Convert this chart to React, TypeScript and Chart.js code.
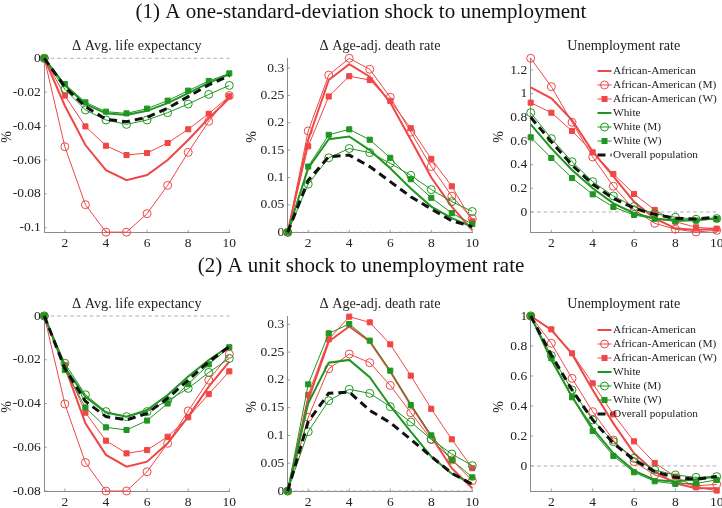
import React, { useEffect, useRef } from "react";
import { Chart, registerables } from "chart.js";

Chart.register(...registerables);

const FONT = "'Liberation Serif', 'Times New Roman', serif";
const RED = "#ef4646";
const GREEN = "#1f961f";
const BLACK = "#111111";

// ---------- shared data ----------
const steps = [1, 2, 3, 4, 5, 6, 7, 8, 9, 10];
const xTickValues = [2, 4, 6, 8, 10];
const seriesNames = [
  "African-American",
  "African-American (M)",
  "African-American (W)",
  "White",
  "White (M)",
  "White (W)",
  "Overall population",
];
const mainTitle1 = "(1) A one-standard-deviation shock to unemployment";
const mainTitle2 = "(2) A unit shock to unemployment rate";
const subTitles = ["\u0394 Avg. life expectancy", "\u0394 Age-adj. death rate", "Unemployment rate"];
const yAxisLabel = "%";

// ---------- (1) life expectancy ----------
const le1AA = [0, -0.028, -0.0512, -0.066, -0.0719, -0.0689, -0.06, -0.0482, -0.0354, -0.0236];
const le1AAM = [0, -0.0522, -0.0864, -0.1026, -0.1026, -0.0917, -0.075, -0.0555, -0.0372, -0.022];
const le1AAW = [0, -0.022, -0.0402, -0.0516, -0.0571, -0.0559, -0.05, -0.0419, -0.0327, -0.0224];
const le1W = [0, -0.016, -0.027, -0.0325, -0.0335, -0.031, -0.0265, -0.0205, -0.0145, -0.0095];
const le1WM = [0, -0.0183, -0.0305, -0.0364, -0.039, -0.0364, -0.0321, -0.027, -0.0213, -0.016];
const le1WW = [0, -0.0152, -0.026, -0.0315, -0.0325, -0.0297, -0.025, -0.0191, -0.0134, -0.0089];
const le1All = [0, -0.017, -0.0285, -0.036, -0.0374, -0.0348, -0.0295, -0.0226, -0.0157, -0.0103];
const le1Ticks = [0, -0.02, -0.04, -0.06, -0.08, -0.1];
const le1Range = [-0.1027, 0];

// ---------- (1) death rate ----------
const dr1AA = [0, 0.169, 0.278, 0.307, 0.284, 0.237, 0.169, 0.1, 0.047, 0.004];
const dr1AAM = [0, 0.185, 0.287, 0.3177, 0.2976, 0.2465, 0.183, 0.12, 0.066, 0.025];
const dr1AAW = [0, 0.157, 0.248, 0.285, 0.278, 0.24, 0.19, 0.134, 0.084, 0.02];
const dr1W = [0, 0.117, 0.17, 0.175, 0.15, 0.117, 0.08, 0.047, 0.026, 0.01];
const dr1WM = [0, 0.088, 0.136, 0.153, 0.1455, 0.126, 0.104, 0.078, 0.056, 0.038];
const dr1WW = [0, 0.12, 0.178, 0.188, 0.169, 0.136, 0.097, 0.063, 0.035, 0.015];
const dr1All = [0, 0.095, 0.138, 0.141, 0.12, 0.0925, 0.065, 0.0426, 0.021, 0.0103];
const dr1Ticks = [0, 0.05, 0.1, 0.15, 0.2, 0.25, 0.3];
const dr1Range = [0, 0.3177];

// ---------- (1) unemployment ----------
const ur1AA = [1.053, 0.96, 0.777, 0.51, 0.3, 0.087, -0.054, -0.138, -0.152, -0.14];
const ur1AAM = [1.299, 1.059, 0.758, 0.465, 0.217, 0.02, -0.096, -0.146, -0.169, -0.155];
const ur1AAW = [0.924, 0.839, 0.685, 0.504, 0.321, 0.152, 0.017, -0.082, -0.13, -0.141];
const ur1W = [0.741, 0.538, 0.355, 0.2, 0.073, -0.011, -0.056, -0.073, -0.068, -0.054];
const ur1WM = [0.839, 0.62, 0.425, 0.256, 0.135, 0.045, -0.014, -0.045, -0.062, -0.056];
const ur1WW = [0.631, 0.456, 0.287, 0.149, 0.042, -0.025, -0.059, -0.079, -0.073, -0.059];
const ur1All = [0.8, 0.594, 0.397, 0.234, 0.115, 0.031, -0.02, -0.054, -0.059, -0.045];
const ur1Ticks = [0, 0.2, 0.4, 0.6, 0.8, 1, 1.2];
const ur1Range = [-0.172, 1.299];

// ---------- (2) life expectancy ----------
const le2AA = [0, -0.0232, -0.049, -0.0635, -0.0689, -0.0666, -0.0582, -0.046, -0.0323, -0.0209];
const le2AAM = [0, -0.0402, -0.067, -0.08, -0.08, -0.0712, -0.0582, -0.0434, -0.0293, -0.0175];
const le2AAW = [0, -0.0224, -0.0442, -0.057, -0.0628, -0.0613, -0.0552, -0.0463, -0.0357, -0.0253];
const le2W = [0, -0.0235, -0.0369, -0.0442, -0.046, -0.043, -0.0361, -0.0277, -0.0201, -0.0137];
const le2WM = [0, -0.0216, -0.036, -0.0437, -0.046, -0.0437, -0.0387, -0.0331, -0.0258, -0.0194];
const le2WW = [0, -0.0247, -0.0418, -0.0509, -0.0521, -0.0478, -0.04, -0.0311, -0.0221, -0.0143];
const le2All = [0, -0.024, -0.039, -0.046, -0.0475, -0.0445, -0.0376, -0.0293, -0.0209, -0.014];
const le2Ticks = [0, -0.02, -0.04, -0.06, -0.08];
const le2Range = [-0.08, 0];

// ---------- (2) death rate ----------
const dr2AA = [0, 0.164, 0.269, 0.296, 0.269, 0.215, 0.155, 0.098, 0.041, 0.005];
const dr2AAM = [0, 0.1326, 0.22, 0.2466, 0.231, 0.19, 0.141, 0.093, 0.0558, 0.0186];
const dr2AAW = [0, 0.173, 0.273, 0.3138, 0.3036, 0.264, 0.2076, 0.148, 0.093, 0.041];
const dr2W = [0, 0.158, 0.231, 0.236, 0.205, 0.153, 0.107, 0.062, 0.031, 0.0126];
const dr2WM = [0, 0.1068, 0.1626, 0.183, 0.1758, 0.1518, 0.1242, 0.093, 0.0666, 0.0456];
const dr2WW = [0, 0.192, 0.2838, 0.3006, 0.2706, 0.2166, 0.1548, 0.1002, 0.0558, 0.0246];
const dr2All = [0, 0.125, 0.176, 0.178, 0.145, 0.123, 0.093, 0.062, 0.032, 0.012];
const dr2Ticks = [0, 0.05, 0.1, 0.15, 0.2, 0.25, 0.3];
const dr2Range = [0, 0.315];

// ---------- (2) unemployment ----------
const ur2AA = [1, 0.907, 0.747, 0.507, 0.284, 0.084, -0.038, -0.116, -0.149, -0.149];
const ur2AAM = [1, 0.818, 0.584, 0.362, 0.173, 0.029, -0.06, -0.104, -0.133, -0.122];
const ur2AAW = [1, 0.911, 0.751, 0.551, 0.344, 0.164, 0.02, -0.071, -0.142, -0.164];
const ur2W = [1, 0.707, 0.462, 0.251, 0.084, -0.031, -0.093, -0.104, -0.089, -0.071];
const ur2WM = [1, 0.736, 0.507, 0.307, 0.162, 0.051, -0.027, -0.06, -0.076, -0.071];
const ur2WW = [1, 0.718, 0.458, 0.233, 0.067, -0.042, -0.102, -0.12, -0.116, -0.093];
const ur2All = [1, 0.74, 0.507, 0.307, 0.151, 0.04, -0.038, -0.076, -0.089, -0.071];
const ur2Ticks = [0, 0.2, 0.4, 0.6, 0.8, 1];
const ur2Range = [-0.167, 1];

// ---------- styles ----------
const seriesStyles = [
  { color: RED, width: 2, marker: "none", dash: [] as number[] },
  { color: RED, width: 1, marker: "circle", dash: [] as number[] },
  { color: RED, width: 1, marker: "square", dash: [] as number[] },
  { color: GREEN, width: 2, marker: "none", dash: [] as number[] },
  { color: GREEN, width: 1, marker: "circle", dash: [] as number[] },
  { color: GREEN, width: 1, marker: "square", dash: [] as number[] },
  { color: BLACK, width: 3, marker: "none", dash: [8, 5] },
];

type PanelCfg = {
  key: string;
  series: number[][];
  yTicks: number[];
  yRange: number[];
  area: { left: number; right: number; top: number; bottom: number };
  title: string;
  titleBaseline: number;
  yLabelX: number;
  yLabelY: number;
  legendTop?: number;
  mainTitle?: string;
  mainBaseline?: number;
};

const ROW1 = { top: 58.3, bottom: 232.3 };
const ROW2 = { top: 316, bottom: 491 };
const COLS = [
  { left: 44.3, right: 229.3, yLabelX: 7.5 },
  { left: 287.7, right: 472.3, yLabelX: 252.5 },
  { left: 530.7, right: 716.7, yLabelX: 499 },
];

const panels: PanelCfg[] = [
  { key: "p1", series: [le1AA, le1AAM, le1AAW, le1W, le1WM, le1WW, le1All], yTicks: le1Ticks, yRange: le1Range, area: { ...COLS[0], ...ROW1 }, title: subTitles[0], titleBaseline: 49.5, yLabelX: COLS[0].yLabelX, yLabelY: 137, mainTitle: mainTitle1, mainBaseline: 17.5 },
  { key: "p2", series: [dr1AA, dr1AAM, dr1AAW, dr1W, dr1WM, dr1WW, dr1All], yTicks: dr1Ticks, yRange: dr1Range, area: { ...COLS[1], ...ROW1 }, title: subTitles[1], titleBaseline: 49.5, yLabelX: COLS[1].yLabelX, yLabelY: 137 },
  { key: "p3", series: [ur1AA, ur1AAM, ur1AAW, ur1W, ur1WM, ur1WW, ur1All], yTicks: ur1Ticks, yRange: ur1Range, area: { ...COLS[2], ...ROW1 }, title: subTitles[2], titleBaseline: 49.5, yLabelX: COLS[2].yLabelX, yLabelY: 137, legendTop: 71 },
  { key: "p4", series: [le2AA, le2AAM, le2AAW, le2W, le2WM, le2WW, le2All], yTicks: le2Ticks, yRange: le2Range, area: { ...COLS[0], ...ROW2 }, title: subTitles[0], titleBaseline: 308.3, yLabelX: COLS[0].yLabelX, yLabelY: 407, mainTitle: mainTitle2, mainBaseline: 272 },
  { key: "p5", series: [dr2AA, dr2AAM, dr2AAW, dr2W, dr2WM, dr2WW, dr2All], yTicks: dr2Ticks, yRange: dr2Range, area: { ...COLS[1], ...ROW2 }, title: subTitles[1], titleBaseline: 308.3, yLabelX: COLS[1].yLabelX, yLabelY: 407 },
  { key: "p6", series: [ur2AA, ur2AAM, ur2AAW, ur2W, ur2WM, ur2WW, ur2All], yTicks: ur2Ticks, yRange: ur2Range, area: { ...COLS[2], ...ROW2 }, title: subTitles[2], titleBaseline: 308.3, yLabelX: COLS[2].yLabelX, yLabelY: 407, legendTop: 330 },
];

const W = 722;
const H = 508;
const Y_AXIS_W = 40;
const X_AXIS_H = 15;

function drawMarker(ctx: CanvasRenderingContext2D, marker: string, color: string, x: number, y: number) {
  ctx.save();
  ctx.setLineDash([]);
  ctx.lineWidth = 1;
  ctx.strokeStyle = color;
  if (marker === "circle") {
    ctx.beginPath();
    ctx.arc(x, y, 4, 0, Math.PI * 2);
    ctx.stroke();
  } else if (marker === "square") {
    ctx.fillStyle = color;
    ctx.fillRect(x - 3, y - 3, 6, 6);
  }
  ctx.restore();
}

const decorPlugin = {
  id: "decor",
  beforeDatasetsDraw(chart: any, _args: any, o: any) {
    const { ctx, chartArea: a } = chart;
    const xs = chart.scales.x;
    const ys = chart.scales.y;
    ctx.save();
    // small inward tick marks
    ctx.strokeStyle = "#8a8a8a";
    ctx.lineWidth = 0.8;
    ctx.beginPath();
    for (const t of xs.ticks) {
      const px = xs.getPixelForValue(t.value);
      ctx.moveTo(px, a.bottom);
      ctx.lineTo(px, a.bottom - 2.5);
    }
    for (const t of ys.ticks) {
      const py = ys.getPixelForValue(t.value);
      ctx.moveTo(a.left, py);
      ctx.lineTo(a.left + 2.5, py);
    }
    ctx.stroke();
    // zero reference line
    const pz = ys.getPixelForValue(0);
    ctx.strokeStyle = "#9a9a9a";
    ctx.lineWidth = 0.8;
    ctx.setLineDash([3.5, 3]);
    ctx.beginPath();
    ctx.moveTo(a.left, pz);
    ctx.lineTo(a.right, pz);
    ctx.stroke();
    ctx.restore();
  },
  afterDraw(chart: any, _args: any, o: any) {
    const { ctx, chartArea: a } = chart;
    ctx.save();
    ctx.fillStyle = "#222";
    // subplot title
    ctx.font = `14.2px ${FONT}`;
    ctx.textAlign = "center";
    ctx.textBaseline = "alphabetic";
    ctx.fillText(o.title, (a.left + a.right) / 2, o.titleBaseline);
    // main title
    if (o.mainTitle) {
      ctx.font = `21px ${FONT}`;
      ctx.fillStyle = "#111";
      ctx.fillText(o.mainTitle, 361, o.mainBaseline);
    }
    // y label
    ctx.fillStyle = "#222";
    ctx.font = `14px ${FONT}`;
    ctx.translate(o.yLabelX, o.yLabelY);
    ctx.rotate(-Math.PI / 2);
    ctx.textBaseline = "middle";
    ctx.fillText(yAxisLabel, 0, 0);
    ctx.restore();

    // legend
    if (o.legendTop !== undefined && o.legendTop !== null) {
      ctx.save();
      const x0 = 597.5;
      const x1 = 611.5;
      seriesNames.forEach((name, i) => {
        const s = seriesStyles[i];
        const y = o.legendTop + i * 14;
        ctx.strokeStyle = s.color;
        ctx.lineWidth = s.width;
        ctx.setLineDash(s.dash);
        ctx.beginPath();
        ctx.moveTo(x0, y);
        ctx.lineTo(x1, y);
        ctx.stroke();
        drawMarker(ctx, s.marker, s.color, (x0 + x1) / 2, y);
        ctx.setLineDash([]);
        ctx.fillStyle = "#222";
        ctx.font = `11.3px ${FONT}`;
        ctx.textAlign = "left";
        ctx.textBaseline = "middle";
        ctx.fillText(name, x1 + 1.5, y + 0.5);
      });
      ctx.restore();
    }
  },
};

function fmt(v: number) {
  return String(Number(Number(v).toFixed(4)));
}

function PanelChart({ p }: { p: PanelCfg }) {
  const ref = useRef<HTMLCanvasElement | null>(null);
  useEffect(() => {
    if (!ref.current) return;
    const datasets = p.series.map((values, i) => {
      const s = seriesStyles[i];
      return {
        label: seriesNames[i],
        data: steps.map((x, k) => ({ x, y: values[k] })),
        borderColor: s.color,
        borderWidth: s.width,
        borderDash: s.dash,
        pointStyle: s.marker === "square" ? "rect" : "circle",
        pointRadius: s.marker === "none" ? 0 : s.marker === "square" ? 3.6 : 4,
        pointHoverRadius: s.marker === "none" ? 0 : 4,
        pointBackgroundColor: s.marker === "square" ? s.color : "rgba(0,0,0,0)",
        pointBorderColor: s.color,
        pointBorderWidth: 1,
        tension: 0,
        fill: false,
        clip: false,
        order: 6 - i,
      };
    });
    const a = p.area;
    const chart = new Chart(ref.current, {
      type: "line",
      data: { datasets },
      options: {
        animation: false,
        responsive: false,
        devicePixelRatio: 1,
        events: [],
        layout: {
          padding: {
            left: a.left - Y_AXIS_W,
            right: W - a.right,
            top: a.top,
            bottom: H - a.bottom - X_AXIS_H,
          },
        },
        scales: {
          x: {
            type: "linear",
            min: 1,
            max: 10,
            grid: { display: false, drawTicks: false },
            border: { display: true, color: "#8a8a8a", width: 1 },
            ticks: {
              color: "#222",
              padding: 3.5,
              maxRotation: 0,
              font: { family: FONT, size: 13.5 },
              callback: (v: any) => fmt(v),
            },
            afterBuildTicks: (s: any) => {
              s.ticks = xTickValues.map((v) => ({ value: v }));
            },
            afterFit: (s: any) => {
              s.height = X_AXIS_H;
              s.paddingLeft = 0;
              s.paddingRight = 0;
            },
          },
          y: {
            type: "linear",
            min: p.yRange[0],
            max: p.yRange[1],
            grid: { display: false, drawTicks: false },
            border: { display: true, color: "#8a8a8a", width: 1 },
            ticks: {
              color: "#222",
              padding: 3.5,
              font: { family: FONT, size: 13.5 },
              callback: (v: any) => fmt(v),
            },
            afterBuildTicks: (s: any) => {
              s.ticks = p.yTicks.map((v) => ({ value: v }));
            },
            afterFit: (s: any) => {
              s.width = Y_AXIS_W;
              s.paddingTop = 0;
              s.paddingBottom = 0;
            },
          },
        },
        plugins: {
          legend: { display: false },
          tooltip: { enabled: false },
          title: { display: false },
          decor: {
            title: p.title,
            titleBaseline: p.titleBaseline,
            yLabelX: p.yLabelX,
            yLabelY: p.yLabelY,
            legendTop: p.legendTop,
            mainTitle: p.mainTitle,
            mainBaseline: p.mainBaseline,
          },
        } as any,
      },
      plugins: [decorPlugin as any],
    } as any);
    return () => chart.destroy();
  }, [p]);
  return (
    <canvas
      ref={ref}
      width={W}
      height={H}
      style={{ position: "absolute", left: 0, top: 0, width: W, height: H }}
    />
  );
}

export default function App() {
  return (
    <div style={{ position: "fixed", left: 0, top: 0, width: W, height: H, background: "#fff", overflow: "hidden" }}>
      {panels.map((p) => (
        <PanelChart key={p.key} p={p} />
      ))}
    </div>
  );
}
